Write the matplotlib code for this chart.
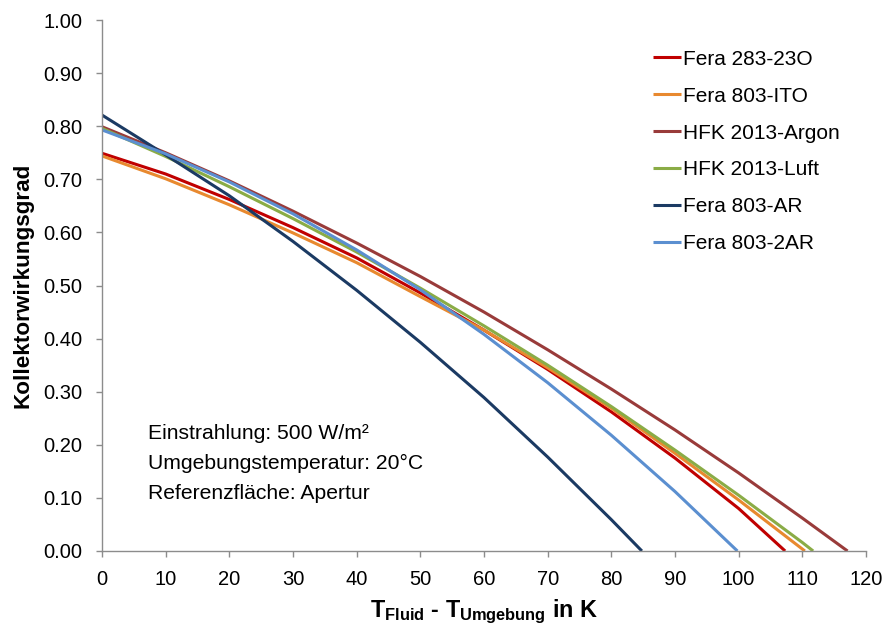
import matplotlib
matplotlib.use("Agg")
import matplotlib.pyplot as plt

plt.rcParams['font.family'] = ['Liberation Sans', 'DejaVu Sans']
plt.rcParams['mathtext.fontset'] = 'custom'
plt.rcParams['mathtext.rm'] = 'Liberation Sans:bold'
plt.rcParams['mathtext.bf'] = 'Liberation Sans:bold'
plt.rcParams['mathtext.it'] = 'Liberation Sans:bold'

# Temperature difference T_Fluid - T_Umgebung in K, and collector efficiency
x_fera_283_23o = [0, 10, 20, 30, 40, 50, 60, 70, 80, 90, 100, 107.3]
y_fera_283_23o = [0.749, 0.710, 0.662, 0.609, 0.552, 0.486, 0.416, 0.342, 0.262, 0.175, 0.080, 0.0]

x_fera_803_ito = [0, 10, 20, 30, 40, 50, 60, 70, 80, 90, 100, 110.4]
y_fera_803_ito = [0.744, 0.701, 0.652, 0.599, 0.543, 0.479, 0.416, 0.345, 0.269, 0.184, 0.096, 0.0]

x_hfk_argon = [0, 10, 20, 30, 40, 50, 60, 70, 80, 90, 100, 110, 117.1]
y_hfk_argon = [0.799, 0.750, 0.697, 0.640, 0.580, 0.517, 0.450, 0.379, 0.305, 0.228, 0.147, 0.062, 0.0]

x_hfk_luft = [0, 10, 20, 30, 40, 50, 60, 70, 80, 90, 100, 110, 111.7]
y_hfk_luft = [0.796, 0.743, 0.686, 0.626, 0.563, 0.495, 0.424, 0.350, 0.272, 0.190, 0.105, 0.016, 0.0]

x_fera_803_ar = [0, 10, 20, 30, 40, 50, 60, 70, 80, 84.8]
y_fera_803_ar = [0.821, 0.746, 0.669, 0.583, 0.491, 0.393, 0.289, 0.177, 0.059, 0.0]

x_fera_803_2ar = [0, 10, 20, 30, 40, 50, 60, 70, 80, 90, 99.8]
y_fera_803_2ar = [0.793, 0.748, 0.695, 0.635, 0.567, 0.492, 0.408, 0.317, 0.218, 0.112, 0.0]

series_names = ['Fera 283-23O', 'Fera 803-ITO', 'HFK 2013-Argon',
                'HFK 2013-Luft', 'Fera 803-AR', 'Fera 803-2AR']
series_x = [x_fera_283_23o, x_fera_803_ito, x_hfk_argon,
            x_hfk_luft, x_fera_803_ar, x_fera_803_2ar]
series_y = [y_fera_283_23o, y_fera_803_ito, y_hfk_argon,
            y_hfk_luft, y_fera_803_ar, y_fera_803_2ar]
colors = ['#C00000', '#E8892F', '#993B3A', '#8AAC46', '#1B3A63', '#5B8FD0']

x_ticks = [0, 10, 20, 30, 40, 50, 60, 70, 80, 90, 100, 110, 120]
y_ticks = [0.0, 0.1, 0.2, 0.3, 0.4, 0.5, 0.6, 0.7, 0.8, 0.9, 1.0]

fig = plt.figure(figsize=(8.85, 6.28), dpi=100)
ax = fig.add_axes([102 / 885, 1 - 551 / 628, 764 / 885, 531 / 628])

for xs, ys, name, c in zip(series_x, series_y, series_names, colors):
    ax.plot(xs, ys, color=c, lw=2.2, label=name, solid_capstyle='butt')

ax.set_xlim(0, 120)
ax.set_ylim(0, 1.0)
ax.set_xticks(x_ticks)
ax.set_yticks(y_ticks)
ax.set_yticklabels([f'{v:.2f}' for v in y_ticks])

axis_gray = '#8C8C8C'
for side in ['top', 'right']:
    ax.spines[side].set_visible(False)
for side in ['left', 'bottom']:
    ax.spines[side].set_color(axis_gray)
    ax.spines[side].set_linewidth(1.0)
ax.tick_params(axis='both', colors=axis_gray, labelcolor='black',
               labelsize=14.5, length=4, width=1.0, direction='out')
ax.tick_params(axis='x', pad=9.7)
ax.tick_params(axis='y', pad=10)

ax.set_xlabel(r'T$_{\mathbf{Fluid}}$ - T$_{\mathbf{Umgebung}}$ in K',
              fontsize=16.8, fontweight='bold', labelpad=6)
ax.set_ylabel('Kollektorwirkungsgrad', fontsize=16.2, fontweight='bold',
              labelpad=7)

leg = ax.legend(loc='upper left', bbox_to_anchor=(0.721, 0.944),
                frameon=False, fontsize=15, handlelength=1.35,
                handletextpad=0.1, labelspacing=0.86, borderaxespad=0,
                borderpad=0)

ax.text(7.2, 0.240, 'Einstrahlung: 500 W/m²\nUmgebungstemperatur: 20°C\nReferenzfläche: Apertur',
        fontsize=15.2, va='top', ha='left', linespacing=1.75)

fig.savefig('out.png', dpi=100)
